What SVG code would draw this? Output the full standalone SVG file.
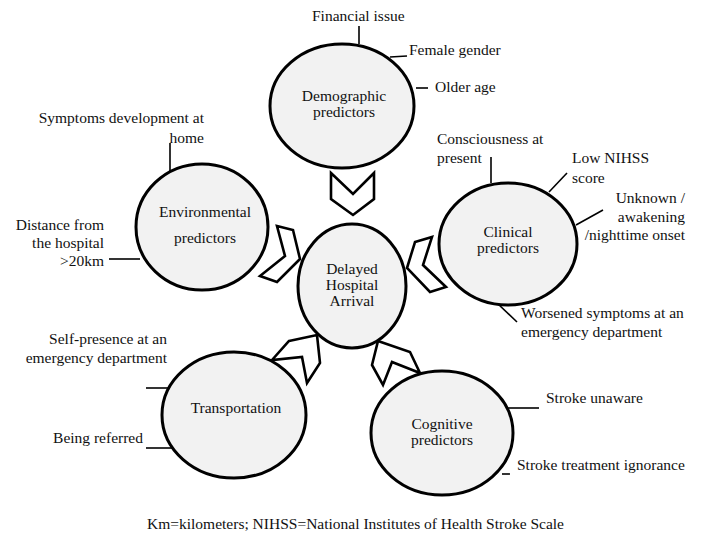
<svg xmlns="http://www.w3.org/2000/svg" width="702" height="544" viewBox="0 0 702 544">
<style>
.node{fill:#f2f2f2;stroke:#000;stroke-width:3}
.chev{fill:#fff;stroke:#000;stroke-width:2.6;stroke-linejoin:miter}
.lead{stroke:#000;stroke-width:1.6;fill:none}
text{font-family:'Liberation Serif','Times New Roman',serif;font-size:15.5px;fill:#111}
.c{text-anchor:middle}
.r{text-anchor:end}
</style>
<rect width="702" height="544" fill="#fff"/>
<g id="connectors">
<polygon class="chev" points="331,173 353,194 374,173 374,199 353,215 331,199"/>
<polygon class="chev" points="277,226 293,230 300,259 277,282 260,276 285,256"/>
<polygon class="chev" points="415,242 432,237 423,265 446,287 430,292 407,268"/>
<polygon class="chev" points="289,341 317,335 320,363 307,383 302,357 272,360"/>
<polygon class="chev" points="378,341 410,352 420,373 392,362 383,385 372,365"/>
<line class="lead" x1="359" y1="26" x2="359" y2="44"/>
<line class="lead" x1="390" y1="57" x2="407" y2="56"/>
<line class="lead" x1="416" y1="88" x2="428" y2="88"/>
<line class="lead" x1="491" y1="157" x2="491" y2="183"/>
<line class="lead" x1="549" y1="192" x2="567" y2="173"/>
<line class="lead" x1="576" y1="225" x2="603" y2="210"/>
<line class="lead" x1="497" y1="303" x2="517" y2="322"/>
<line class="lead" x1="170" y1="143" x2="170" y2="172"/>
<line class="lead" x1="109" y1="259" x2="140" y2="259"/>
<line class="lead" x1="146" y1="388" x2="170" y2="388"/>
<line class="lead" x1="146" y1="448" x2="172" y2="448"/>
<line class="lead" x1="508" y1="408" x2="539" y2="408"/>
<line class="lead" x1="502" y1="474" x2="510" y2="474"/>
</g>
<g id="demographic">
<ellipse class="node" cx="342" cy="106" rx="72" ry="62"/>
<text class="c" x="344" y="101">Demographic</text>
<text class="c" x="344" y="117">predictors</text>
<text x="312" y="21">Financial issue</text>
<text x="409" y="55">Female gender</text>
<text x="435" y="92">Older age</text>
</g>
<g id="environmental">
<ellipse class="node" cx="202" cy="227" rx="66" ry="63"/>
<text class="c" x="205" y="217">Environmental</text>
<text class="c" x="205" y="243">predictors</text>
<text class="r" x="204" y="123">Symptoms development at</text>
<text class="r" x="204" y="143">home</text>
<text class="r" x="104" y="230">Distance from</text>
<text class="r" x="104" y="248">the hospital</text>
<text class="r" x="104" y="266">&gt;20km</text>
</g>
<g id="center">
<ellipse class="node" cx="352" cy="286" rx="54" ry="62"/>
<text class="c" x="352" y="274">Delayed</text>
<text class="c" x="352" y="290">Hospital</text>
<text class="c" x="352" y="306">Arrival</text>
</g>
<g id="clinical">
<ellipse class="node" cx="508" cy="244" rx="69" ry="61"/>
<text class="c" x="508" y="237">Clinical</text>
<text class="c" x="508" y="253">predictors</text>
<text x="437" y="144">Consciousness at</text>
<text x="437" y="163">present</text>
<text x="572" y="163">Low NIHSS</text>
<text x="572" y="183">score</text>
<text class="r" x="685" y="203">Unknown /</text>
<text class="r" x="685" y="222">awakening</text>
<text class="r" x="685" y="240">/nighttime onset</text>
<text x="521" y="318">Worsened symptoms at an</text>
<text x="521" y="337">emergency department</text>
</g>
<g id="transportation">
<ellipse class="node" cx="234" cy="415" rx="72" ry="63"/>
<text class="c" x="236" y="413">Transportation</text>
<text class="r" x="167" y="344">Self-presence at an</text>
<text class="r" x="167" y="363">emergency department</text>
<text class="r" x="143" y="443">Being referred</text>
</g>
<g id="cognitive">
<ellipse class="node" cx="442" cy="433" rx="71" ry="62"/>
<text class="c" x="442" y="429">Cognitive</text>
<text class="c" x="442" y="445">predictors</text>
<text x="546" y="403">Stroke unaware</text>
<text x="517" y="470">Stroke treatment ignorance</text>
</g>
<text x="147" y="529">Km=kilometers; NIHSS=National Institutes of Health Stroke Scale</text>
</svg>
